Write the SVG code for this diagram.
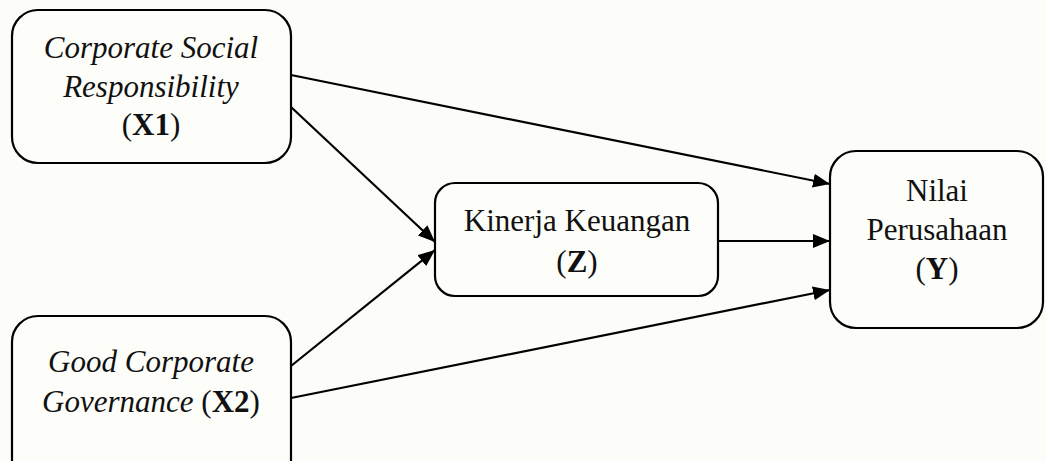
<svg xmlns="http://www.w3.org/2000/svg" width="1046" height="461" viewBox="0 0 1046 461">
<style>
.box{fill:#fdfdfa;stroke:#000;stroke-width:2.2}
text{font-family:'Liberation Serif','Times New Roman',serif;font-size:31px;fill:#111;text-anchor:middle}
.i{font-style:italic}
.b{font-weight:bold}
.c{stroke:#000;stroke-width:2.2;fill:none;marker-end:url(#arr)}
</style>
<defs>
<marker id="arr" markerUnits="userSpaceOnUse" markerWidth="18" markerHeight="14" refX="17" refY="7" orient="auto">
<path d="M0,0 L17,7 L0,14 z" fill="#000"/>
</marker>
</defs>
<rect width="1046" height="461" fill="#fcfdf8"/>
<g id="connectors">
<line class="c" x1="291" y1="75" x2="830" y2="184"/>
<line class="c" x1="291" y1="107" x2="435" y2="242"/>
<line class="c" x1="291" y1="366" x2="435" y2="250"/>
<line class="c" x1="718" y1="241" x2="830" y2="241"/>
<line class="c" x1="291" y1="398" x2="830" y2="290"/>
</g>
<g id="X1">
<rect class="box" x="12" y="10" width="279" height="153" rx="26"/>
<text class="i" x="151" y="58" font-family="Liberation Serif, serif">Corporate Social</text>
<text class="i" x="151" y="97" font-family="Liberation Serif, serif">Responsibility</text>
<text x="151" y="135" font-family="Liberation Serif, serif">(<tspan class="b">X1</tspan>)</text>
</g>
<g id="X2">
<rect class="box" x="12" y="316" width="279" height="170" rx="26"/>
<text class="i" x="151" y="372" font-family="Liberation Serif, serif">Good Corporate</text>
<text x="151" y="412" font-family="Liberation Serif, serif"><tspan class="i">Governance</tspan> (<tspan class="b">X2</tspan>)</text>
</g>
<g id="Z">
<rect class="box" x="435" y="183" width="283" height="113" rx="20"/>
<text x="577" y="231" font-family="Liberation Serif, serif">Kinerja Keuangan</text>
<text x="577" y="272" font-family="Liberation Serif, serif">(<tspan class="b">Z</tspan>)</text>
</g>
<g id="Y">
<rect class="box" x="830" y="151" width="213" height="177" rx="26"/>
<text x="937" y="201" font-family="Liberation Serif, serif">Nilai</text>
<text x="937" y="240" font-family="Liberation Serif, serif">Perusahaan</text>
<text x="937" y="279" font-family="Liberation Serif, serif">(<tspan class="b">Y</tspan>)</text>
</g>
</svg>
